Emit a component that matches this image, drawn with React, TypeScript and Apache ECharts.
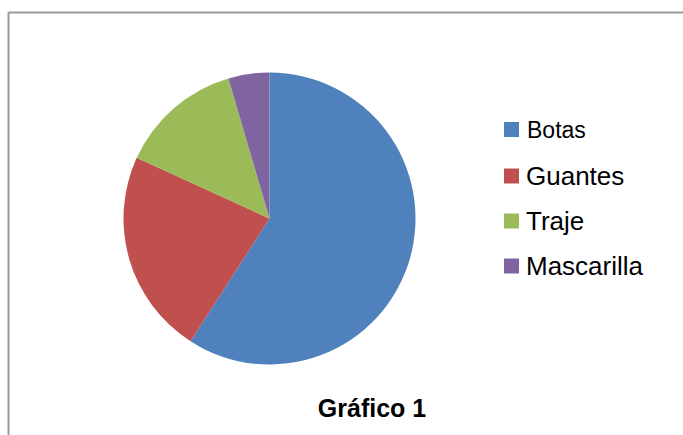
import React, { useEffect, useRef } from "react";
import * as echarts from "echarts";

const categories = ["Botas", "Guantes", "Traje", "Mascarilla"];
const values = [13, 5, 3, 1];
const colors = ["#4F81BD", "#C0504D", "#9BBB59", "#8064A2"];
const titleText = "Gráfico 1";

export default function App() {
  const ref = useRef<HTMLDivElement>(null);
  useEffect(() => {
    if (!ref.current) return;
    const chart = echarts.init(ref.current, null, { renderer: "svg" });
    chart.setOption({
      animation: false,
      backgroundColor: "#ffffff",
      title: {
        text: titleText,
        left: 372,
        top: 395,
        padding: 0,
        textAlign: "center",
        textStyle: {
          fontFamily: "Liberation Sans, Arial, sans-serif",
          fontWeight: "bold",
          fontSize: 25,
          color: "#000000",
        },
      },
      legend: {
        orient: "vertical",
        left: 504,
        top: 115,
        padding: 0,
        itemWidth: 15,
        itemHeight: 15,
        itemGap: 19,
        icon: "rect",
        data: categories,
        formatter: (name: string) =>
          name === "Botas" ? "{b|" + name + "}" : "{a|" + name + "}",
        textStyle: {
          rich: {
            a: {
              fontFamily: "Liberation Sans, Arial, sans-serif",
              fontSize: 26,
              lineHeight: 26,
              color: "#000000",
              padding: [0, 0, 0, 2],
            },
            b: {
              fontFamily: "Liberation Sans, Arial, sans-serif",
              fontSize: 23,
              lineHeight: 26,
              color: "#000000",
              padding: [3, 0, 3, 3],
            },
          },
        },
      },
      graphic: [
        {
          type: "line",
          shape: { x1: 8.5, y1: 12.5, x2: 683, y2: 12.5 },
          style: { stroke: "#999999", lineWidth: 2 },
        },
        {
          type: "line",
          shape: { x1: 8.5, y1: 12.5, x2: 8.5, y2: 435 },
          style: { stroke: "#999999", lineWidth: 2 },
        },
      ],
      series: [
        {
          type: "pie",
          center: [269.5, 218.5],
          radius: 146,
          startAngle: 90,
          clockwise: true,
          label: { show: false },
          labelLine: { show: false },
          emphasis: { disabled: true },
          itemStyle: { borderWidth: 0 },
          data: categories.map((c, i) => ({
            name: c,
            value: values[i],
            itemStyle: { color: colors[i] },
          })),
        },
      ],
    });
    return () => chart.dispose();
  }, []);
  return (
    <div
      ref={ref}
      style={{ position: "absolute", left: 0, top: 0, width: 683, height: 435 }}
    />
  );
}
